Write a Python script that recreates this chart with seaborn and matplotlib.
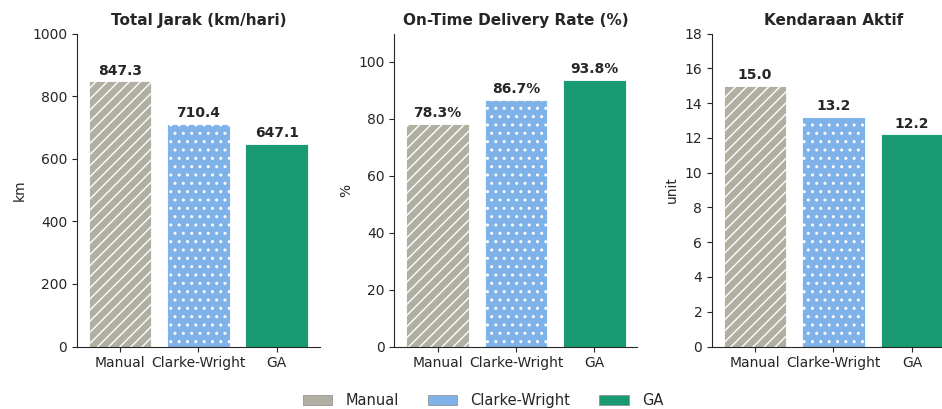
import matplotlib
matplotlib.use('Agg')
import matplotlib.pyplot as plt
import seaborn as sns
import pandas as pd
from matplotlib.patches import Patch

# chart data
methods = ['Manual', 'Clarke-Wright', 'GA']
total_distance = [847.3, 710.4, 647.1]
on_time_rate = [78.3, 86.7, 93.8]
active_vehicles = [15.0, 13.2, 12.2]

colors = ['#b1aea2', '#7fb2e8', '#1a9a72']
hatches = ['///', '..', '']

sns.set_style('ticks')
plt.rcParams['hatch.color'] = 'white'
plt.rcParams['hatch.linewidth'] = 1.0

fig, axes = plt.subplots(1, 3, figsize=(9.42, 4.09), dpi=100)
fig.subplots_adjust(left=0.0817, right=1.0138, bottom=0.1528, top=0.918, wspace=0.3066)

panels = [
    (total_distance, 'Total Jarak (km/hari)', 'km', (0, 1000), '{:.1f}'),
    (on_time_rate, 'On-Time Delivery Rate (%)', '%', (0, 110), '{:.1f}%'),
    (active_vehicles, 'Kendaraan Aktif', 'unit', (0, 18), '{:.1f}'),
]

for ax, (values, title, ylabel, ylim, fmt) in zip(axes, panels):
    df = pd.DataFrame({'method': methods, 'value': values})
    sns.barplot(data=df, x='method', y='value', hue='method', palette=colors,
                saturation=1, width=0.8, edgecolor='white', linewidth=0.6,
                legend=False, ax=ax)
    for bar, h in zip(ax.patches, hatches):
        bar.set_hatch(h)
    for i, v in enumerate(values):
        ax.text(i, v + ylim[1] * 0.012, fmt.format(v), ha='center', va='bottom',
                fontsize=10, fontweight='bold', color='#262626')
    ax.set_xlim(-0.55, 2.55)
    ax.set_ylim(*ylim)
    ax.set_title(title, fontsize=11, fontweight='bold', pad=6)
    ax.set_xlabel('')
    ax.set_ylabel(ylabel, fontsize=10)
    ax.tick_params(labelsize=10)
    sns.despine(ax=ax)

axes[2].set_yticks(range(0, 19, 2))

handles = [Patch(facecolor=c, edgecolor='#888888', linewidth=0.5) for c in colors]
fig.legend(handles, methods, loc='lower center', bbox_to_anchor=(0.513, -0.03),
           ncol=3, frameon=False, fontsize=10.5, handlelength=2.0,
           handletextpad=0.9, columnspacing=2.0)

fig.savefig('out.png', dpi=100)
